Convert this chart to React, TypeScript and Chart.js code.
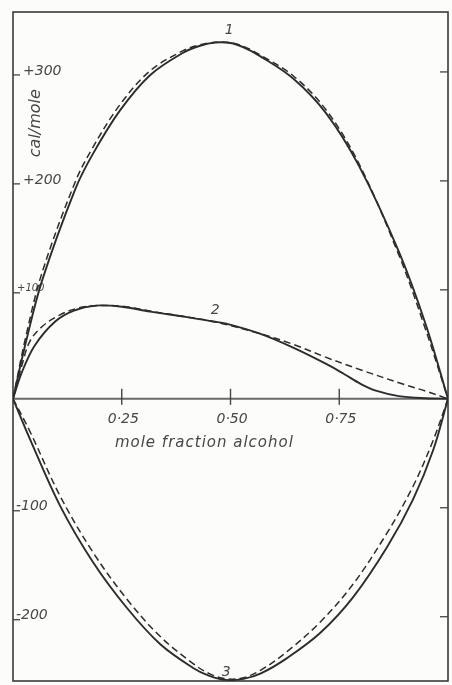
import React, { useEffect, useRef } from 'react';
import { Chart, registerables } from 'chart.js';

Chart.register(...registerables);

// Heat of mixing curves (cal/mole) against mole fraction of alcohol.
// Curve 1
const c1X = [0, 0.03, 0.067, 0.143, 0.184, 0.246, 0.315, 0.391, 0.43, 0.465, 0.5, 0.53, 0.566, 0.644, 0.72, 0.795, 0.887, 0.949, 1];
const c1Solid = [0, 52.5, 108.7, 192.3, 225, 264.7, 297, 317.6, 324, 327, 326.5, 322.5, 315, 294, 262, 214, 135, 68, 0];
const c1Dashed = [0, 58, 116, 199, 231, 270, 301, 319.5, 325, 327.2, 326.8, 323.5, 316, 296.5, 265, 216, 132, 63, 0];

// Curve 2
const c2SolidX = [0, 0.02, 0.05, 0.097, 0.14, 0.19, 0.25, 0.315, 0.4, 0.46, 0.49, 0.566, 0.644, 0.72, 0.76, 0.8, 0.834, 0.887, 0.949, 1];
const c2Solid = [0, 24, 49, 71, 81, 85.5, 84.5, 80, 75, 71, 69, 60, 47, 32, 23, 13.5, 7.5, 2.5, 0.5, 0];
const c2DashedX = [0, 0.02, 0.039, 0.069, 0.108, 0.147, 0.19, 0.25, 0.315, 0.4, 0.46, 0.566, 0.644, 0.72, 0.8, 0.9, 0.949, 1];
const c2Dashed = [0, 30, 53, 67, 77, 83, 85.5, 85, 80.5, 75, 71, 60, 50, 38, 26.5, 13, 7, 0];

// Curve 3
const c3X = [0, 0.039, 0.108, 0.184, 0.262, 0.338, 0.414, 0.45, 0.49, 0.53, 0.57, 0.63, 0.706, 0.782, 0.86, 0.92, 0.966, 1];
const c3Solid = [0, -37, -98, -150, -192, -225, -247, -254, -258, -257, -252, -238, -215, -182, -136, -92, -47, 0];
const c3Dashed = [0, -30, -89, -141, -184, -218, -243, -252, -257, -256, -249, -232, -205, -170, -123, -80, -38, 0];

// Axis ticks and labels
const xTicks = [0.25, 0.5, 0.75];
const xTickLabels = ['0·25', '0·50', '0·75'];
const yTicks = [300, 200, 100, -100, -200];
const yTickLabels = ['+300', '+200', '+100', '-100', '-200'];
const curveLabels = ['1', '2', '3'];
const curveLabelPos = [
  { x: 0.497, y: 338 },
  { x: 0.465, y: 81 },
  { x: 0.49, y: -251 },
];
const xTitle = 'mole fraction alcohol';
const yTitle = 'cal/mole';

const pts = (xs: number[], ys: number[]) => xs.map((x, i) => ({ x, y: ys[i] }));

const INK = '#2c2c2c';
const TEXT = '#474747';

const solidStyle = {
  borderColor: INK,
  borderWidth: 1.9,
  fill: false,
  pointRadius: 0,
  tension: 0.35,
};
const dashedStyle = {
  ...solidStyle,
  borderWidth: 1.5,
  borderDash: [7, 4],
};

const paper = {
  id: 'paper',
  beforeDraw(chart: any) {
    const { ctx, width, height } = chart;
    ctx.save();
    ctx.fillStyle = '#fcfcfb';
    ctx.fillRect(0, 0, width, height);
    ctx.restore();
  },
};

const overlay = {
  id: 'overlay',
  beforeDatasetsDraw(chart: any) {
    const { ctx, chartArea: a, scales } = chart;
    const x = scales.x;
    const y = scales.y;
    const line = (x1: number, y1: number, x2: number, y2: number) => {
      ctx.beginPath();
      ctx.moveTo(x1, y1);
      ctx.lineTo(x2, y2);
      ctx.stroke();
    };
    ctx.save();
    // frame
    ctx.strokeStyle = '#3a3a3a';
    ctx.lineWidth = 1.6;
    ctx.strokeRect(a.left, a.top, a.right - a.left, a.bottom - a.top);

    // zero line
    const y0 = y.getPixelForValue(0);
    ctx.strokeStyle = '#6a6a6a';
    ctx.lineWidth = 2;
    line(a.left, y0, a.right, y0);

    // x ticks
    ctx.strokeStyle = '#444';
    ctx.lineWidth = 1.4;
    ctx.fillStyle = TEXT;
    ctx.font = 'italic 14px "DejaVu Sans"';
    ctx.textBaseline = 'middle';
    ctx.textAlign = 'left';
    xTicks.forEach((t, i) => {
      const px = x.getPixelForValue(t);
      line(px, y0 - 10, px, y0 + 6);
      ctx.fillText(xTickLabels[i], px - 14, y0 + 21);
    });

    // y ticks, left and right sides
    yTicks.forEach((t, i) => {
      const py = y.getPixelForValue(t);
      ctx.lineWidth = 1.3;
      line(a.left, py + 3, a.left + 7, py + 3);
      line(a.right - 8, py, a.right, py);
      const small = t === 100;
      const neg = t < 0;
      ctx.font = small ? 'italic 10px "DejaVu Sans"' : 'italic 14px "DejaVu Sans"';
      ctx.fillText(yTickLabels[i], a.left + (small ? 4 : neg ? 3 : 10), py - 1);
    });

    // axis titles
    ctx.font = 'italic 15px "DejaVu Sans"';
    ctx.textAlign = 'center';
    (ctx as any).letterSpacing = '1px';
    ctx.fillText(xTitle, x.getPixelForValue(0.44), y0 + 44);
    (ctx as any).letterSpacing = '0px';

    ctx.save();
    ctx.translate(a.left + 23, y.getPixelForValue(253));
    ctx.rotate(-Math.PI / 2);
    ctx.font = 'italic 16px "DejaVu Sans"';
    ctx.fillText(yTitle, 0, 0);
    ctx.restore();

    // curve numbers
    ctx.font = 'italic 14px "DejaVu Sans"';
    curveLabels.forEach((lab, i) => {
      const p = curveLabelPos[i];
      ctx.fillText(lab, x.getPixelForValue(p.x), y.getPixelForValue(p.y));
    });
    ctx.restore();
  },
};

export default function App() {
  const ref = useRef<HTMLCanvasElement | null>(null);

  useEffect(() => {
    if (!ref.current) return;
    const chart = new Chart(ref.current, {
      type: 'line',
      data: {
        datasets: [
          { ...solidStyle, data: pts(c1X, c1Solid) },
          { ...dashedStyle, data: pts(c1X, c1Dashed) },
          { ...solidStyle, data: pts(c2SolidX, c2Solid) },
          { ...dashedStyle, data: pts(c2DashedX, c2Dashed) },
          { ...solidStyle, data: pts(c3X, c3Solid) },
          { ...dashedStyle, data: pts(c3X, c3Dashed) },
        ],
      } as any,
      options: {
        responsive: false,
        animation: false,
        devicePixelRatio: 1,
        parsing: false,
        layout: { padding: { left: 13, top: 12, right: 4, bottom: 4 } },
        plugins: { legend: { display: false }, tooltip: { enabled: false } },
        scales: {
          x: { type: 'linear', min: 0, max: 1, display: false },
          y: { type: 'linear', min: -259, max: 355, display: false },
        },
      } as any,
      plugins: [paper, overlay],
    });
    return () => chart.destroy();
  }, []);

  return (
    <div style={{ position: 'absolute', left: 0, top: 0, width: 452, height: 685 }}>
      <canvas ref={ref} width={452} height={685} style={{ display: 'block' }} />
    </div>
  );
}
